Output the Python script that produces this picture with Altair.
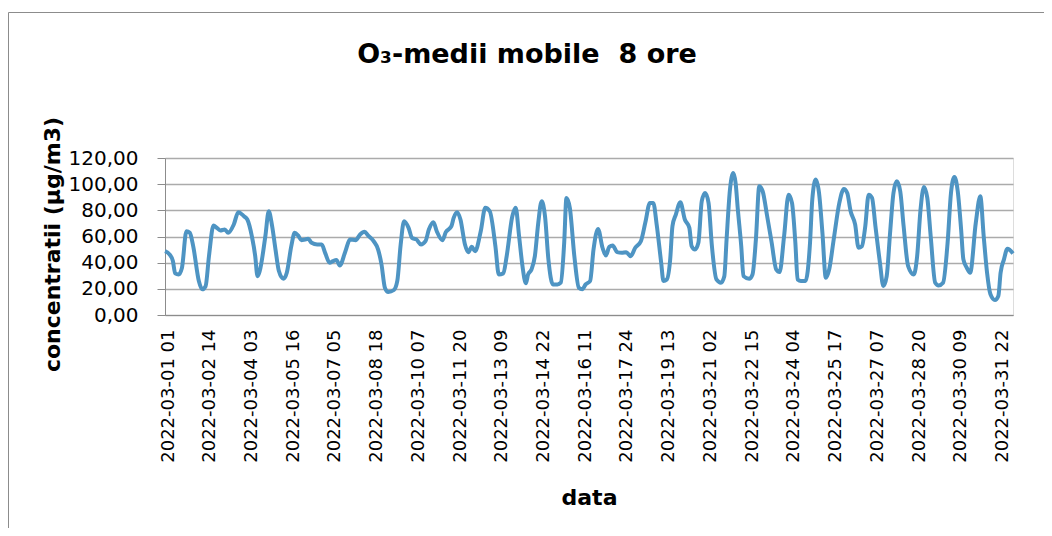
import altair as alt
import pandas as pd

# hour index (0 = 2022-03-01 01) and 8-hour moving average O3 (µg/m3)
hours = [0, 4, 7, 9, 12, 15, 19, 22, 25, 30, 33, 36, 39, 43, 46, 49, 53, 56, 61, 65,
         70, 73, 77, 80, 82, 84, 89, 92, 95, 98, 101, 105, 108, 112, 115, 118, 121, 124, 127, 130,
         135, 139, 142, 146, 149, 152, 155, 160, 164, 169, 173, 177, 180, 185, 189, 192, 195, 198, 203, 206,
         209, 212, 216, 219, 223, 227, 231, 234, 238, 241, 246, 249, 254, 256, 259, 262, 266, 269, 272, 275,
         280, 284, 288, 293, 296, 300, 303, 308, 311, 314, 317, 320, 322, 325, 328, 331, 334, 337, 340, 344,
         348, 351, 354, 356, 359, 363, 367, 370, 373, 377, 380, 384, 388, 391, 394, 397, 401, 405, 409, 413,
         417, 422, 426, 430, 433, 436, 440, 442, 445, 448, 450, 453, 457, 461, 465, 467, 470, 473, 476, 479,
         482, 485, 489, 493, 496, 498, 501, 504, 506, 508, 511, 513, 518, 521, 524, 527, 530, 534, 538, 542,
         545, 549, 553, 556, 559, 561, 564, 568, 572, 574, 577, 580, 583, 586, 589, 593, 598, 602, 605, 608,
         612, 615, 618, 621, 624, 627, 630, 634, 637, 640, 643, 646, 649, 652, 655, 659, 664, 667, 670, 673,
         676, 679, 683, 686, 690, 694, 697, 700, 703, 706, 708, 711, 714, 719, 723, 726, 729, 732, 736, 739,
         741, 744, 747, 752]

values = [48.8, 46.3, 41.2, 31.8, 31.0, 36.0, 64.0, 62.8, 52.6, 26.0, 19.6, 22.0, 45.0, 68.4, 66.6, 64.6, 65.3, 62.8, 69.2, 78.6,
          75.5, 73.0, 60.3, 45.0, 29.7, 33.6, 60.3, 79.3, 67.9, 50.0, 33.6, 27.7, 32.3, 52.6, 62.8, 60.8, 57.2, 57.7, 58.2, 55.2,
          53.9, 53.9, 47.5, 39.9, 41.2, 42.0, 37.9, 48.8, 57.7, 57.2, 61.5, 63.6, 60.8, 56.4, 50.0, 38.6, 20.8, 17.5, 19.1, 26.0,
          53.9, 71.7, 66.6, 59.0, 57.7, 53.9, 56.4, 65.3, 70.9, 64.0, 57.2, 63.3, 67.9, 74.2, 78.6, 73.0, 53.9, 48.0, 52.1, 48.8,
          64.0, 81.9, 79.3, 52.6, 31.0, 31.8, 45.0, 75.5, 81.9, 60.3, 37.4, 24.2, 31.0, 34.8, 45.0, 70.4, 87.0, 75.5, 42.5, 23.4,
          23.4, 24.7, 55.2, 89.5, 81.9, 45.0, 20.8, 19.6, 23.4, 26.0, 50.0, 65.8, 51.4, 45.5, 52.1, 53.1, 48.0, 47.5, 48.0, 45.0,
          51.4, 56.4, 70.9, 85.7, 85.7, 69.2, 40.0, 26.0, 27.2, 42.5, 67.9, 76.8, 86.2, 73.0, 66.6, 52.6, 50.0, 55.2, 87.0, 93.3,
          85.7, 52.6, 27.2, 24.7, 29.7, 57.7, 95.8, 108.5, 100.9, 80.6, 52.6, 29.7, 27.7, 31.0, 57.7, 98.4, 94.6, 75.5, 55.2, 34.8,
          32.8, 60.3, 92.0, 85.7, 55.2, 27.2, 26.0, 26.0, 55.2, 88.2, 103.5, 93.3, 62.8, 28.5, 34.8, 57.7, 85.7, 96.4, 93.3, 79.3,
          69.2, 51.4, 52.6, 67.9, 92.0, 89.5, 67.9, 40.0, 22.1, 29.7, 62.8, 93.3, 102.2, 94.6, 67.9, 37.4, 31.0, 45.0, 80.6, 97.9,
          89.5, 60.3, 24.7, 22.6, 24.7, 55.2, 93.3, 105.5, 94.6, 65.3, 42.5, 36.1, 32.3, 70.4, 90.8, 60.3, 32.3, 15.8, 11.4, 14.5,
          32.3, 42.5, 50.6, 47.0]

tick_labels = ["2022-03-01 01", "2022-03-02 14", "2022-03-04 03", "2022-03-05 16", "2022-03-07 05",
               "2022-03-08 18", "2022-03-10 07", "2022-03-11 20", "2022-03-13 09", "2022-03-14 22",
               "2022-03-16 11", "2022-03-17 24", "2022-03-19 13", "2022-03-21 02", "2022-03-22 15",
               "2022-03-24 04", "2022-03-25 17", "2022-03-27 07", "2022-03-28 20", "2022-03-30 09",
               "2022-03-31 22"]
label_step = 37
tick_values = [label_step * k for k in range(len(tick_labels))]
y_ticks = [0, 20, 40, 60, 80, 100, 120]

df = pd.DataFrame({"ora": hours, "o3": values})

labels_js = "[" + ",".join("'" + s + "'" for s in tick_labels) + "]"

FONT = "DejaVu Sans"
GRID = "#ababab"

line = alt.Chart(df).mark_line(
    color="#4E94C3", strokeWidth=4, interpolate="monotone"
).encode(
    x=alt.X(
        "ora:Q",
        scale=alt.Scale(domain=[0, 752], nice=False, zero=False),
        axis=alt.Axis(
            values=tick_values,
            labelExpr=f"{labels_js}[round(datum.value / {label_step})]",
            labelAngle=270,
            labelFont=FONT, labelFontSize=18, labelColor="#000000",
            labelOverlap=False, labelFlush=False,
            grid=False, ticks=False, tickSize=0,
            labelPadding=14, labelOffset=3,
            domainColor="#8c8c8c",
            title="data", titleFont=FONT, titleFontSize=22, titleFontWeight="bold",
            titleColor="#000000", titlePadding=25,
        ),
    ),
    y=alt.Y(
        "o3:Q",
        scale=alt.Scale(domain=[0, 120], nice=False),
        axis=alt.Axis(
            values=y_ticks,
            labelExpr="replace(format(datum.value, '.2f'), '.', ',')",
            labelFont=FONT, labelFontSize=20, labelColor="#000000",
            tickSize=8, tickColor="#8c8c8c", labelPadding=19,
            grid=True, gridColor=GRID, gridWidth=1.5,
            domainColor="#8c8c8c",
            title="concentratii (µg/m3)", titleFont=FONT, titleFontSize=22,
            titleFontWeight="bold", titleColor="#000000", titlePadding=4,
            titleY=86,
        ),
    ),
)

frame = alt.Chart(alt.Data(values=[{}])).mark_rect(
    fillOpacity=0, stroke="#8c8c8c", strokeWidth=1
).encode(
    x=alt.value(-156.5), x2=alt.value(900),
    y=alt.value(-145.5), y2=alt.value(400),
)

chart = alt.layer(frame, line).properties(
    width=848,
    height=157,
    padding={"left": 157, "top": 150, "right": 31, "bottom": 213},
    autosize=alt.AutoSizeParams(type="none"),
    title=alt.Title(
        text="O₃-medii mobile\u00a0 8 ore",
        frame="group", anchor="middle", dx=-62, offset=0, dy=78,
        baseline="alphabetic",
        font=FONT, fontSize=27, fontWeight="bold", color="#000000",
    ),
).configure_view(stroke=None).configure(background="white")

chart.save("out.html", embed_options={"renderer": "svg", "actions": False})
